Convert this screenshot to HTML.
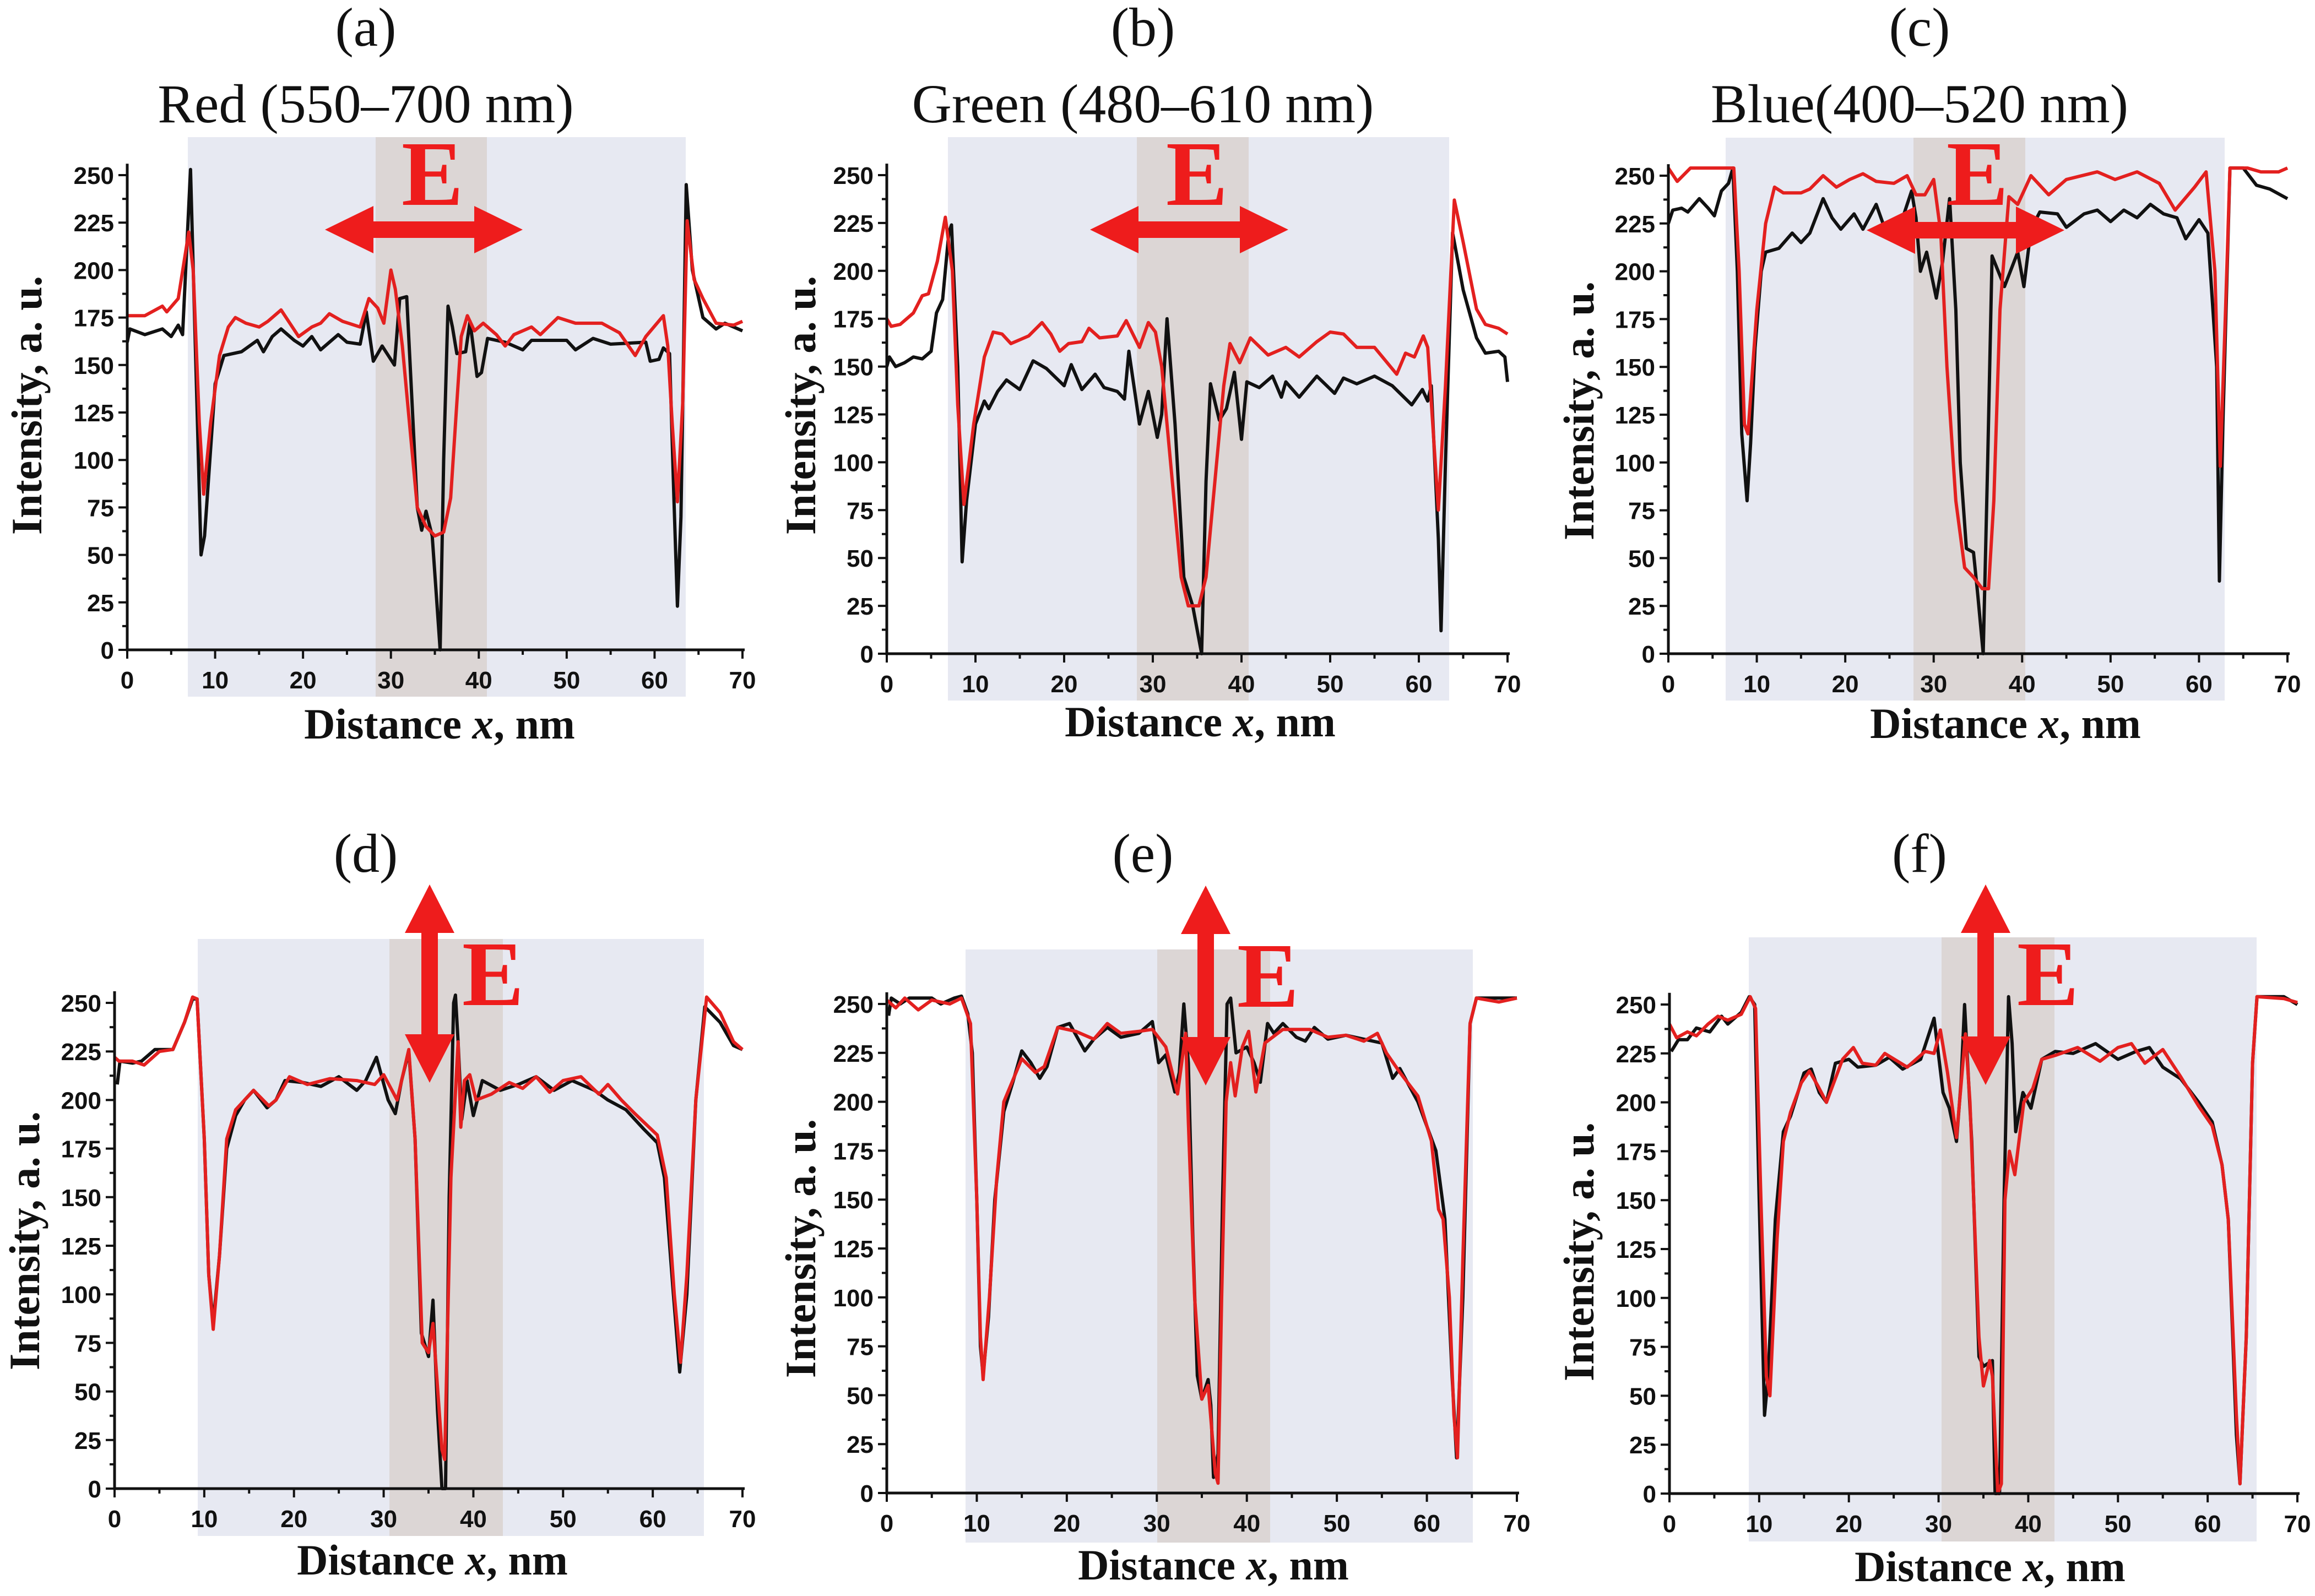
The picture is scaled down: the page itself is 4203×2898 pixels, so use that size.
<!DOCTYPE html>
<html><head><meta charset="utf-8"><style>
html,body{margin:0;padding:0;background:#fff}
svg{display:block}
.tk{font-family:"Liberation Sans",sans-serif;font-weight:bold;font-size:44px;fill:#111}
.ttl{font-family:"Liberation Serif",serif;font-weight:bold;font-size:78px;fill:#111}
.hd{font-family:"Liberation Serif",serif;font-size:100px;fill:#111}
.E{font-family:"Liberation Serif",serif;font-weight:bold;font-size:168px;fill:#ee1c1c}
</style></head><body>
<svg id="fig" xmlns="http://www.w3.org/2000/svg" width="4203" height="2898" viewBox="0 0 4203 2898"></svg>
<script>
// ---- data (x in nm, intensity in a.u.) ----
const xTicks=[0,10,20,30,40,50,60,70];
const yTicks=[0,25,50,75,100,125,150,175,200,225,250];
const panelLetters=["(a)","(b)","(c)","(d)","(e)","(f)"];
const panelTitles=["Red (550–700 nm)","Green (480–610 nm)","Blue(400–520 nm)","","",""];

const aBlackX=[0,0.3,2,4,5,5.8,6.3,7.2,8.4,8.8,10,11,13,14.8,15.5,16.5,17.5,19,20,21,22,24,25,26.5,27.2,28,29,30.4,31,31.8,32.3,33,33.5,34,34.7,35.6,36,36.5,37,37.5,38.5,39,39.8,40.3,41,43,45,46,50,51,53,55,59,59.5,60.5,61,61.7,62.2,62.6,63,63.6,64.3,65.5,67,68,70];
const aBlackY=[162,169,166,169,165,171,166,253,50,60,140,155,157,163,157,165,169,163,160,165,158,166,162,161,178,152,160,150,185,186,140,75,63,73,60,0,100,181,170,156,157,173,144,146,164,162,158,163,163,158,164,161,162,152,153,159,156,80,23,70,245,200,175,169,172,168];
const aRedX=[0,2,4,4.5,5.8,7,7.5,8.2,8.7,9.5,10.5,11.5,12.3,13.5,15,16,17.5,18.5,19.5,21,22,23,24.5,26.5,27.5,28.5,29.2,30,30.5,31.3,32.3,33,34,35,36,36.8,37.5,38,38.7,39.5,40.5,42,43,44,46,47,49,51,54,56,57.8,59,61,61.5,62,62.6,63.2,63.7,64.5,65.5,67,69,70];
const aRedY=[176,176,181,178,185,220,200,120,82,120,155,170,175,172,170,173,179,172,165,170,172,177,173,170,185,180,172,200,190,160,110,75,65,60,62,80,130,165,176,168,172,166,160,166,170,166,175,172,172,167,155,165,176,160,120,78,130,226,195,185,172,171,173];

const bBlackX=[0,0.3,1,2,3,4,5,5.6,6.3,7,7.3,8,8.5,9,10,11,11.5,12.5,13.5,15,16.5,18,20,20.8,22,23.5,24.5,26,26.8,27.3,28.5,29.5,30.5,31,31.6,32.5,33.5,34.5,35.5,36,36.5,37.5,38.3,39.2,40,40.6,42,43.5,44.5,45,46.5,48.5,50.5,51.5,53,55,57,59.2,60.4,61,61.4,62.2,62.5,63,63.8,65,66.5,67.5,69,69.7,70];
const bBlackY=[150,155,150,152,155,154,158,178,185,220,224,150,48,80,120,132,128,137,143,138,153,149,140,151,138,146,139,137,133,158,120,137,113,125,175,120,40,25,0,90,141,122,128,147,112,142,139,145,134,142,134,145,136,144,141,145,140,130,138,132,140,60,12,100,220,190,165,157,158,155,142];
const bRedX=[0,0.5,1.5,3,4,4.7,5.7,6.6,7.4,8,8.7,9.8,11,12,13,14,16,17.5,18.5,19.5,20.5,22,22.8,24,26,27,28.5,29.5,30.3,31,32.2,33.2,34,35.2,36,37,38,38.7,39.8,41,43,45,46.5,48.5,50,51.5,53,55,57.5,58.5,59.5,60.5,61,62.2,63,64,65,66.5,67.5,69,70];
const bRedY=[175,171,172,178,187,188,205,228,200,130,78,120,155,168,167,162,166,173,167,158,162,163,170,165,166,174,160,173,168,150,90,40,25,25,40,90,140,162,152,165,156,160,155,163,168,167,160,160,146,157,155,166,160,75,140,237,215,180,172,170,167];

const cBlackX=[0,0.5,1.5,2.2,3.5,4.5,5.2,6,6.8,7.3,7.8,8.3,8.9,9.3,9.8,10.5,11,12.5,14,15,16,17.5,18.5,19.5,21,22,23.5,24.5,25.5,26.5,27.5,28,28.5,29.2,30.3,31,31.8,32.5,33,33.7,34.5,35,35.6,36.1,36.6,37.3,38,39.5,40.2,41,42,44,45,47,48.5,50,51.5,53,54.5,56,57.5,58.5,60,61,62,62.3,62.7,63.5,65,66.5,68,70];
const cBlackY=[225,232,233,231,238,233,229,242,246,254,200,115,80,110,160,200,210,212,220,215,220,238,228,222,230,222,235,222,225,228,242,228,200,210,186,205,238,180,100,55,53,30,0,100,208,200,192,210,192,222,231,230,223,230,232,226,232,228,235,230,228,217,227,220,150,38,120,254,254,245,243,238];
const cRedX=[0,1,2.5,7.4,8,8.6,9,10,11,12,13,15,16,17.5,19,20.5,22,23.5,25.5,27,28,29,30,30.8,31.5,32.5,33.5,34.5,35.5,36.2,36.8,37.5,38.5,39.5,41,43,45,48.5,50.5,53,55.5,57.3,59.5,60.8,61.8,62.4,63,63.5,65.5,67,69,70];
const cRedY=[254,247,254,254,200,120,115,180,225,244,241,241,243,250,244,248,251,247,246,250,240,240,248,220,150,80,45,40,34,34,80,180,239,235,250,240,248,252,248,252,246,232,244,252,200,98,180,254,254,252,252,254];

const dBlackX=[0.3,0.6,2,3,4.5,6.5,7.8,8.7,9.2,10,10.5,11,11.7,12.5,13.5,14.5,15.5,17,18,19,21,23,25,27,28,29.2,30.5,31.3,32,32.8,33.5,34.2,35,35.5,36,36.5,36.9,37.3,37.8,38,38.3,38.7,39.3,40,41,43,45,47,49,51,53.5,55,57,59,60.5,61.3,62.3,63,63.8,64.8,65.8,67.5,69,70];
const dBlackY=[208,220,219,220,226,226,240,252,252,180,110,85,120,175,192,200,205,196,200,210,209,207,212,205,210,222,200,193,210,225,180,80,68,97,40,0,0,150,250,254,230,190,210,192,210,205,208,212,205,210,205,200,195,185,178,160,100,60,100,200,248,240,228,226];
const dRedX=[0,0.5,2,3.3,5,6.5,7.8,8.7,9.2,10,10.5,11,11.7,12.5,13.5,14.5,15.5,17.2,18,19.5,21.5,24,27,29,30,31.5,32.8,33.5,34.3,35,35.5,36.5,36.8,37.5,38.3,38.6,39,39.6,40.3,42,44,45.5,47,48.5,50,52,54,55,56.5,58,60.5,61.5,62.4,63.1,63.8,64.8,66,67.5,69,70];
const dRedY=[222,220,220,218,225,226,240,253,252,180,110,82,120,180,195,200,205,197,200,212,208,211,210,208,213,200,226,180,75,70,85,20,15,160,230,186,210,213,200,203,209,206,212,204,210,212,203,208,200,193,182,160,100,65,110,200,253,245,230,226];

const eBlackX=[0.2,0.5,1.5,2.5,5,6,7.5,8.3,9,9.5,10,10.4,10.7,11.3,12,13,14,15,16,17,17.8,19,20.3,22,23,24.5,26,28,29.5,30.2,31,32,32.5,33,33.5,34,34.5,35,35.7,36,36.3,36.8,37.3,37.8,38.2,38.8,40,40.8,41.5,42.3,43,44,45.5,46.5,47.5,49,51,53,55,56.2,57,59,61,62,62.8,63.3,64,64.8,65.5,69,70];
const eBlackY=[244,253,250,253,253,250,253,254,245,225,150,75,60,90,150,195,210,226,220,212,218,238,240,226,232,238,233,235,241,220,224,205,215,250,220,130,60,48,58,45,8,20,150,250,253,225,228,220,210,240,235,240,233,231,238,232,234,232,230,212,217,200,175,140,60,18,100,240,253,253,253];
const eRedX=[0,1,2,3.5,5,7,8.3,9.3,10,10.4,10.7,11.4,12.2,13,15,16.5,17.5,19,21,23,24.5,26,28,29.5,31,32.3,33.2,33.5,34.2,35,35.7,36.5,36.8,37.2,37.7,38.2,38.7,39.5,40.2,41,42,44,47,49,51,53,54.5,55.5,57,59,60.5,61.3,61.8,62.5,63,63.4,64,64.8,65.5,68,70];
const eRedY=[252,248,253,247,252,250,253,240,150,80,58,100,160,200,222,215,218,238,236,232,240,235,236,237,228,204,235,190,100,48,55,10,5,100,200,220,203,228,236,205,230,237,237,233,234,231,235,225,215,203,180,145,140,100,40,18,120,240,253,251,253];

const fBlackX=[0.2,1,2,3,4.5,5.8,6.5,8,8.9,9.5,10,10.6,11,11.8,12.7,13.5,15,15.8,16.7,17.5,18.5,20,21,23,24.5,26,28,29.5,30.5,31.2,32,32.5,32.9,33.7,34.5,35,36,36.3,36.8,37.3,37.8,38.2,38.6,39.4,40.3,41.5,43,45,47.5,50,52,53.5,55,57,59,60.5,61.6,62.3,63.2,63.6,64.3,65,65.5,68.5,70];
const fBlackY=[226,232,232,238,236,244,240,246,254,250,150,40,60,140,185,193,215,217,205,200,220,222,218,219,223,217,222,243,205,197,180,210,250,180,70,65,68,0,0,150,254,230,185,205,197,222,226,225,230,222,226,228,218,212,200,190,168,140,30,5,80,220,254,254,250];
const fRedX=[0,0.8,2,3,4.3,5.4,6.5,8,9,9.6,10.2,10.8,11.2,12,12.7,13.5,14.7,15.6,16.6,17.5,19.3,20.5,21.5,23,24,26.5,28.5,29.5,30.2,31,32,33,33.5,34.5,35,35.7,36,36.6,37,37.4,37.9,38.5,39.5,40.5,41.5,43,45.5,48,50,51.5,53,55,57,59,60.5,61.6,62.3,63.2,63.6,64.3,65,65.5,68.5,70];
const fRedY=[240,233,236,234,240,244,242,245,254,248,150,60,50,130,180,195,210,216,208,200,222,228,220,219,225,218,226,225,237,215,182,235,200,80,55,68,60,0,5,150,175,163,200,207,222,224,228,221,228,230,220,227,213,198,188,168,140,40,5,80,220,254,253,251];

// ---- layout (geometry only) ----
const panels=[
 {x0:231,x1:1348,y0:1180,y1:318,band:[341,1245,249,1265],brown:[682,884],cx:664,hy:83,ty:222,arrow:'h',ax:[590,949],ay:417,ex:785,ey:372,xt:[798,1341],yt:[49,736]},
 {x0:1610,x1:2737,y0:1187,y1:318,band:[1721,2631,249,1272],brown:[2064,2267],cx:2075,hy:83,ty:222,arrow:'h',ax:[1979,2339],ay:417,ex:2173,ey:372,xt:[2179,1337],yt:[1454,736]},
 {x0:3029,x1:4153,y0:1187,y1:319,band:[3133,4039,250,1272],brown:[3474,3677],cx:3485,hy:83,ty:222,arrow:'h',ax:[3389,3748],ay:418,ex:3590,ey:372,xt:[3641,1340],yt:[2867,746]},
 {x0:208,x1:1348,y0:2703,y1:1821,band:[359,1278,1705,2789],brown:[707,913],cx:664,hy:1583,arrow:'v',ax:780,ay:[1606,1966],ex:895,ey:1825,xt:[785,2859],yt:[45,2253]},
 {x0:1610,x1:2754,y0:2711,y1:1823,band:[1753,2674,1724,2801],brown:[2101,2306],cx:2075,hy:1583,arrow:'v',ax:2189,ay:[1608,1971],ex:2302,ey:1828,xt:[2203,2868],yt:[1454,2267]},
 {x0:3031,x1:4171,y0:2712,y1:1824,band:[3175,4097,1702,2799],brown:[3525,3730],cx:3485,hy:1583,arrow:'v',ax:3605,ay:[1606,1970],ex:3718,ey:1825,xt:[3613,2871],yt:[2867,2273]}
];
const series=[[aBlackX,aBlackY,aRedX,aRedY],[bBlackX,bBlackY,bRedX,bRedY],[cBlackX,cBlackY,cRedX,cRedY],
 [dBlackX,dBlackY,dRedX,dRedY],[eBlackX,eBlackY,eRedX,eRedY],[fBlackX,fBlackY,fRedX,fRedY]];
const ids=['a','b','c','d','e','f'];
const NS='http://www.w3.org/2000/svg';
const svg=document.getElementById('fig');
function mk(tag,attrs,parent,text){const e=document.createElementNS(NS,tag);for(const k in attrs)e.setAttribute(k,attrs[k]);if(text!==undefined)e.textContent=text;parent.appendChild(e);return e;}

panels.forEach((p,i)=>{
  const g=mk('g',{},svg);
  
  
  const sx=v=>p.x0+(p.x1-p.x0)*v/70;
  const sy=v=>p.y0+(p.y1-p.y0)*v/250;
  const b=mk('rect',{x:p.band[0],y:p.band[2],width:p.band[1]-p.band[0],height:p.band[3]-p.band[2],fill:'#e7e9f2'},g);
  
  
  const br=mk('rect',{x:p.brown[0],y:p.band[2],width:p.brown[1]-p.brown[0],height:p.band[3]-p.band[2],fill:'#dcd6d5'},g);
  
  
  const h=mk('text',{x:p.cx,y:p.hy,'text-anchor':'middle',class:'hd'},g,panelLetters[i]);
  
  
  if(panelTitles[i]){const t=mk('text',{x:p.cx,y:p.ty,'text-anchor':'middle',class:'hd'},g,panelTitles[i]);
    
    }
  const s=series[i];
  const path=(xs,ys)=>xs.map((x,k)=>(k?'L':'M')+sx(x).toFixed(1)+' '+sy(ys[k]).toFixed(1)).join(' ');
  const lb=mk('path',{d:path(s[0],s[1]),fill:'none',stroke:'#111','stroke-width':6,'stroke-linejoin':'round'},g);
  
  
  const lr=mk('path',{d:path(s[2],s[3]),fill:'none',stroke:'#e3201f','stroke-width':6,'stroke-linejoin':'round'},g);
  
  
  const ax=mk('path',{d:`M${p.x0} ${sy(256)} L${p.x0} ${p.y0} L${p.x1+4} ${p.y0}`,fill:'none',stroke:'#111','stroke-width':5},g);
  
  
  let td='';
  for(let v=0;v<=70;v+=5){const L=v%10===0?16:9;td+=`M${sx(v)} ${p.y0} L${sx(v)} ${p.y0+L} `;}
  for(let v=0;v<=250;v+=12.5){const L=v%25===0?16:9;td+=`M${p.x0} ${sy(v)} L${p.x0-L} ${sy(v)} `;}
  const tk=mk('path',{d:td,stroke:'#111','stroke-width':4},g);
  
  
  xTicks.forEach(v=>{const t=mk('text',{x:sx(v),y:p.y0+70,'text-anchor':'middle',class:'tk'},g,String(v));
    
    });
  yTicks.forEach(v=>{const t=mk('text',{x:p.x0-24,y:sy(v)+16,'text-anchor':'end',class:'tk'},g,String(v));
    
    });
  const xt=mk('text',{x:p.xt[0],y:p.xt[1],'text-anchor':'middle',class:'ttl'},g);
  
  
  xt.appendChild(document.createTextNode('Distance '));
  mk('tspan',{'font-style':'italic'},xt,'x');
  xt.appendChild(document.createTextNode(', nm'));
  const yx=p.yt[0]+26;
  const yt=mk('text',{x:yx,y:p.yt[1],'text-anchor':'middle',class:'ttl',transform:`rotate(-90 ${yx} ${p.yt[1]})`},g,'Intensity, a. u.');
  
  
  let d;
  if(p.arrow==='h'){const [a,c]=p.ax,y=p.ay,hl=88,hh=43,sh=15;
    d=`M${a} ${y} L${a+hl} ${y-hh} L${a+hl} ${y-sh} L${c-hl} ${y-sh} L${c-hl} ${y-hh} L${c} ${y} L${c-hl} ${y+hh} L${c-hl} ${y+sh} L${a+hl} ${y+sh} L${a+hl} ${y+hh} Z`;}
  else {const x=p.ax,[a,c]=p.ay,hl=88,hh=45,sh=15;
    d=`M${x} ${a} L${x+hh} ${a+hl} L${x+sh} ${a+hl} L${x+sh} ${c-hl} L${x+hh} ${c-hl} L${x} ${c} L${x-hh} ${c-hl} L${x-sh} ${c-hl} L${x-sh} ${a+hl} L${x-hh} ${a+hl} Z`;}
  const ar=mk('path',{d:d,fill:'#ee1c1c'},g);
  
  
  const e=mk('text',{x:p.ex,y:p.ey,'text-anchor':'middle',class:'E'},g,'E');
  
  
});
</script>
</body></html>
